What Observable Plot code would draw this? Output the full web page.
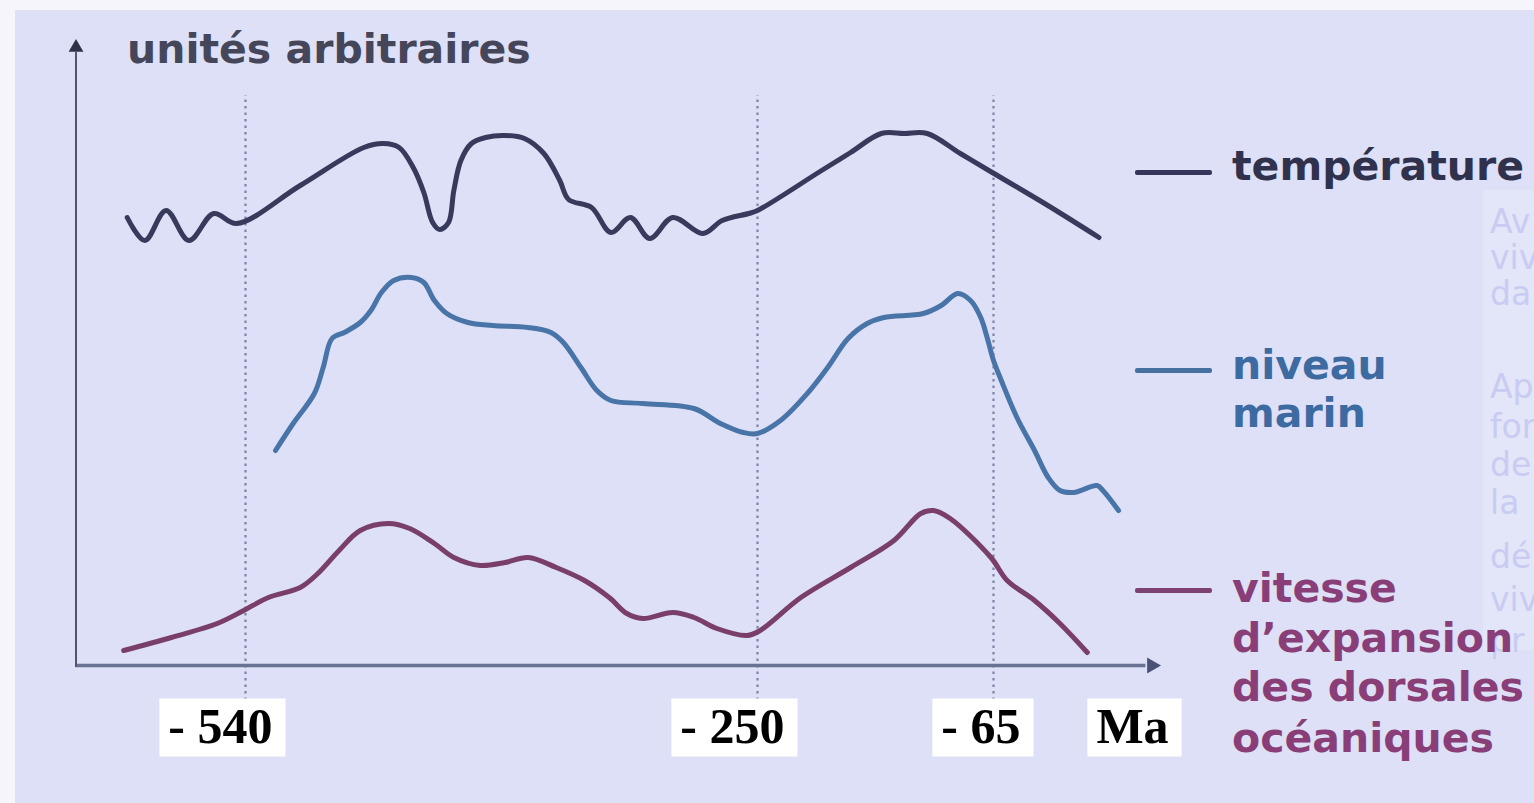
<!DOCTYPE html>
<html><head><meta charset="utf-8">
<script src="https://cdn.jsdelivr.net/npm/d3@7"></script>
<script src="https://cdn.jsdelivr.net/npm/@observablehq/plot@0.6"></script>
<style>
html,body{margin:0;padding:0;background:#fff;}
#wrap{position:relative;width:1534px;height:803px;overflow:hidden;background:#f5f5fb;}
#bg{position:absolute;left:15px;top:10px;right:0;bottom:0;background:#dde0f6;}
#panel{position:absolute;left:1483px;top:190px;width:51px;height:460px;background:#e3e5f8;}
#chart{position:absolute;left:0;top:0;}
.t{position:absolute;white-space:nowrap;font-family:"DejaVu Sans",sans-serif;font-weight:bold;line-height:1;font-size:41px;}
.g{position:absolute;white-space:nowrap;font-family:"DejaVu Sans",sans-serif;line-height:1;font-size:33px;color:#c8ccf2;}
.sw{position:absolute;left:1135px;width:77px;height:5px;border-radius:2px;}
</style>
</head><body>
<div id="wrap">
  <div id="bg"></div>
  <div id="panel"></div>
  <div class="g" style="left:1490px;top:205px">Av</div>
  <div class="g" style="left:1490px;top:241px">viv</div>
  <div class="g" style="left:1490px;top:277px">da</div>
  <div class="g" style="left:1490px;top:370px">Ap</div>
  <div class="g" style="left:1490px;top:410px">for</div>
  <div class="g" style="left:1490px;top:448px">de</div>
  <div class="g" style="left:1490px;top:486px">la</div>
  <div class="g" style="left:1490px;top:540px">dé</div>
  <div class="g" style="left:1490px;top:583px">viv</div>
  <div class="g" style="left:1490px;top:624px">pr</div>
  <div id="chart"></div>
  <div class="t" style="left:127px;top:29px;color:#45465a;">unités arbitraires</div>
  <div class="sw" style="top:170px;background:#34365a;"></div>
  <div class="t" style="left:1232px;top:146px;color:#30324d;">température</div>
  <div class="sw" style="top:368px;background:#46709f;"></div>
  <div class="t" style="left:1232px;top:345px;color:#3d6ba1;">niveau</div>
  <div class="t" style="left:1232px;top:393px;color:#3d6ba1;">marin</div>
  <div class="sw" style="top:588px;background:#7d4272;"></div>
  <div class="t" style="left:1232px;top:568px;color:#8a3e77;">vitesse</div>
  <div class="t" style="left:1232px;top:618px;color:#8a3e77;">d’expansion</div>
  <div class="t" style="left:1232px;top:667px;color:#8a3e77;">des dorsales</div>
  <div class="t" style="left:1232px;top:718px;color:#8a3e77;">océaniques</div>
</div>
<script>
// ---- Data (time in Ma, values in arbitrary units) ----
const tempMa  = [-607,-597,-585,-572,-558,-545,-509,-473,-462,-453,-445,-439,-434,-430,-425,-422,-418,-412,-404,-393,-382,-371,-362,-357,-344,-333,-322,-311,-298,-281,-270,-255,-250,-201,-177,-153,-135,-117,-91,-66,-38,-11];
const tempVal = [44.8,42.5,45.5,42.5,45.2,44.2,48.0,51.8,52.2,51.8,49.8,47.3,44.3,43.6,44.3,47.5,50.5,52.2,52.8,53.0,52.7,51.2,48.5,46.6,45.8,43.3,44.8,42.7,44.8,43.2,44.5,45.2,45.5,49.4,51.3,53.2,53.2,53.2,51.2,49.3,46.1,42.8];

const seaMa  = [-523,-513,-501,-496,-491,-484,-475,-469,-463,-456,-446,-439,-433,-426,-414,-400,-380,-367,-360,-350,-341,-333,-315,-286,-271,-258,-250,-232,-211,-195,-179,-164,-151,-120,-106,-93,-83,-75,-70,-65,-61,-53,-44,-37,-31,-24,-12,-9,-1];
const seaVal = [21.5,24.2,27.2,29.8,32.7,33.3,34.3,35.5,37.3,38.5,38.8,38.3,36.5,35.2,34.3,34.0,33.8,33.3,32.3,29.8,27.5,26.5,26.2,25.7,24.2,23.3,23.2,24.5,27.2,29.8,32.7,34.2,34.8,35.2,36.0,37.2,36.5,34.8,32.8,30.5,28.5,24.8,21.5,18.8,17.5,17.3,18.0,17.5,15.5];

const ridgeMa  = [-609,-582,-556,-541,-527,-509,-499,-487,-475,-459,-447,-433,-422,-407,-393,-380,-364,-348,-334,-324,-315,-298,-286,-273,-256,-248,-216,-177,-143,-122,-112,-99,-67,-58,-44,-31,-17];
const ridgeVal = [1.5,2.8,4.2,5.5,6.8,7.8,9.2,11.5,13.5,14.2,13.7,12.2,10.8,10.0,10.3,10.8,9.8,8.5,6.8,5.2,4.7,5.3,4.8,3.7,3.0,3.5,6.8,9.8,12.5,15.2,15.5,14.7,10.8,8.5,6.5,4.2,1.3];

const tickMa = [-540, -250, -65];
const tickLabels = ["- 540", "- 250", "- 65"];
const unitLabel = "Ma";
const axisExtentMa = [-636, 16];   // origin of the time axis and arrow end
const axisTopValue = 61.8;          // top of the value axis (arrow)

const toRows = (xs, ys) => xs.map((m, i) => ({ma: m, v: ys[i]}));
const temp = toRows(tempMa, tempVal);
const sea = toRows(seaMa, seaVal);
const ridge = toRows(ridgeMa, ridgeVal);

const chart = Plot.plot({
  width: 1534, height: 803,
  marginLeft: 75, marginRight: 384, marginTop: 50, marginBottom: 137,
  style: {background: "transparent", overflow: "visible"},
  x: {type: "linear", domain: [-540, -250, -65, 0], range: [245, 757, 993, 1120], axis: null},
  y: {domain: [0, 62], range: [665, 45], axis: null},
  marks: [
    Plot.ruleX(tickMa, {x: d => d, y1: -3.5, y2: 57, stroke: "#7c83aa", strokeWidth: 2.2, strokeDasharray: "2.5,4"}),
    Plot.ruleY([0], {y: d => d, x1: axisExtentMa[0], x2: axisExtentMa[1] - 3, stroke: "#6a7293", strokeWidth: 3.5}),
    Plot.ruleX([axisExtentMa[0]], {x: d => d, y1: -0.2, y2: axisTopValue - 0.5, stroke: "#50566f", strokeWidth: 2}),
    Plot.dot([{ma: axisExtentMa[1], v: 0}], {x: "ma", y: "v", symbol: "triangle", rotate: 90, r: 6, fill: "#4a5275", stroke: null}),
    Plot.dot([{ma: axisExtentMa[0], v: axisTopValue}], {x: "ma", y: "v", symbol: "triangle", r: 5.5, fill: "#2f3246", stroke: null}),
    Plot.line(ridge, {x: "ma", y: "v", stroke: "#7a3e6d", strokeWidth: 5, curve: "catmull-rom"}),
    Plot.line(sea, {x: "ma", y: "v", stroke: "#4874a8", strokeWidth: 5, curve: "catmull-rom"}),
    Plot.line(temp, {x: "ma", y: "v", stroke: "#383a5c", strokeWidth: 5, curve: "catmull-rom"}),
    Plot.text(tickMa, {x: d => d, text: (d, i) => tickLabels[i], frameAnchor: "bottom", dy: 60, dx: 27,
      textAnchor: "end", lineAnchor: "middle", fontFamily: "Liberation Serif", fontWeight: "bold",
      fontSize: 50, fill: "#000"}),
    Plot.text([unitLabel], {text: d => d, frameAnchor: "bottom-right", dx: -18, dy: 60,
      textAnchor: "middle", lineAnchor: "middle", fontFamily: "Liberation Serif", fontWeight: "bold",
      fontSize: 50, fill: "#000"})
  ]
});
document.getElementById("chart").append(chart);

// white boxes behind the time labels
const boxed = new Set([...tickLabels, unitLabel]);
chart.querySelectorAll("text").forEach(t => {
  if (!boxed.has(t.textContent)) return;
  const bb = t.getBBox();
  const r = document.createElementNS("http://www.w3.org/2000/svg", "rect");
  r.setAttribute("x", bb.x - 9);
  r.setAttribute("y", bb.y + 1);
  r.setAttribute("width", bb.width + 22);
  r.setAttribute("height", bb.height + 2);
  r.setAttribute("fill", "#ffffff");
  if (t.getAttribute("transform")) r.setAttribute("transform", t.getAttribute("transform"));
  t.parentNode.insertBefore(r, t);
});
</script>
</body></html>
